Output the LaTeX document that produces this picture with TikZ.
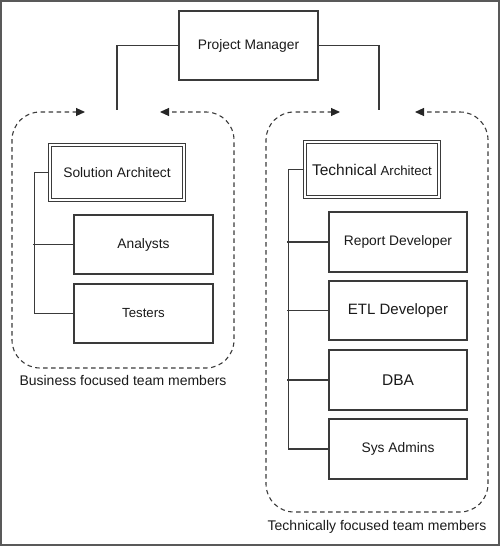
\documentclass[tikz,border=0pt]{standalone}
\usepackage{fontspec}
\setmainfont{Liberation Sans}
\usetikzlibrary{arrows.meta}
\definecolor{ln}{HTML}{3A3A3A}
\definecolor{tx}{HTML}{1A1A1A}
\tikzset{
  gtip/.tip={Triangle[length=9pt,width=8pt]},
  box/.style={draw=ln, line width=1.3pt, fill=white, minimum width=#1, minimum height=59pt, inner sep=0pt, text=tx, font=\fontsize{13.8}{16}\selectfont},
  box/.default=138pt,
  dbox/.style={draw=ln, line width=1.1pt, double=white, double distance=1.2pt, minimum width=134pt, minimum height=55pt, inner sep=0pt, text=tx, font=\fontsize{13.8}{16}\selectfont},
  conn/.style={draw=ln, line width=1.3pt},
  group/.style={draw=ln, line width=1.1pt, dash pattern=on 4.5pt off 3.5pt, rounded corners=28pt},
  tipline/.style={draw=black!85, fill=black!85, line width=1.1pt, solid, -{gtip}, shorten <=0pt},
  caption/.style={text=tx, inner sep=0pt, font=\fontsize{14}{16}\selectfont}
}
\begin{document}
\begin{tikzpicture}[x=1pt,y=-1pt]
\useasboundingbox (0,0) rectangle (500,546);
\draw[draw=black!65, line width=1.6pt] (0.8,0.8) rectangle (499.2,545.2);

% top
\node[box=139pt, minimum height=69pt] (pm) at (248.5,45.5) {Project Manager};
\coordinate (lt) at (117,110);
\coordinate (rt) at (379,110);
\draw[conn] (pm.west) -| (lt);
\draw[conn] (pm.east) -| (rt);

% left group
\coordinate (la1) at (85,112);
\coordinate (la0) at (77,112);
\coordinate (la2) at (160,112);
\coordinate (la3) at (168,112);
\coordinate (lc1) at (12,112);
\coordinate (lc2) at (12,368);
\coordinate (lc3) at (234,368);
\coordinate (lc4) at (234,112);
\draw[group] (la0) -- (lc1) -- (lc2) -- (lc3) -- (lc4) -- (la3);
\draw[tipline] (la0) -- (la1);
\draw[tipline] (la3) -- (la2);

\node[dbox] (sa) at (117,172.5) {Solution Architect};
\node[box=139pt] (an) at (143.5,244.5) {Analysts};
\node[box=139pt, font=\fontsize{13.2}{16}\selectfont] (te) at (143.5,313.5) {Testers};
\coordinate (ls) at (33,175);
\draw[conn] (sa.west) -- ++(-15,0) |- (te.west);
\draw[conn] (an.west) -- (an.west -| ls);
\node[caption] (lcap) at (123,380) {Business focused team members};

% right group
\coordinate (ra1) at (340,112);
\coordinate (ra0) at (332,112);
\coordinate (ra2) at (415,112);
\coordinate (ra3) at (423,112);
\coordinate (rc1) at (266,112);
\coordinate (rc2) at (266,512);
\coordinate (rc3) at (488,512);
\coordinate (rc4) at (488,112);
\draw[group] (ra0) -- (rc1) -- (rc2) -- (rc3) -- (rc4) -- (ra3);
\draw[tipline] (ra0) -- (ra1);
\draw[tipline] (ra3) -- (ra2);

\node[dbox] (ta) at (372,169.5) {{\fontsize{15.5}{16}\selectfont Technical} {\fontsize{13.2}{16}\selectfont Architect}};
\node[box, minimum height=60pt] (rd) at (398,242) {Report Developer};
\node[box, font=\fontsize{15}{16}\selectfont] (etl) at (398,310.5) {ETL Developer};
\node[box, minimum height=60pt, font=\fontsize{15.5}{16}\selectfont] (dba) at (398,380) {DBA};
\node[box, minimum height=60pt] (sys) at (398,449) {Sys Admins};
\coordinate (rs) at (287,171);
\draw[conn] (ta.west) -- ++(-16,0) |- (sys.west);
\draw[conn] (rd.west) -- (rd.west -| rs);
\draw[conn] (etl.west) -- (etl.west -| rs);
\draw[conn] (dba.west) -- (dba.west -| rs);
\node[caption] (rcap) at (377,527) {Technically focused team members};
\end{tikzpicture}
\end{document}
